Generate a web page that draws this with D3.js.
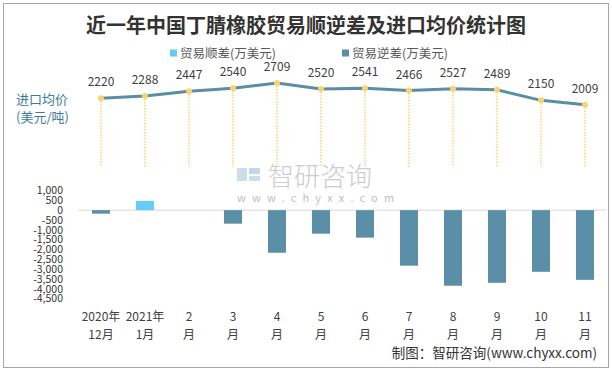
<!DOCTYPE html>
<html><head><meta charset="utf-8">
<script src="https://cdn.jsdelivr.net/npm/d3@7"></script>
<style>body{margin:0;background:#fff}svg{display:block}text{font-family:"Microsoft YaHei","Noto Sans CJK SC",sans-serif}</style>
</head><body><svg id="c" width="612" height="369"></svg>
<script>
const categories = ["2020年12月","2021年1月","2月","3月","4月","5月","6月","7月","8月","9月","10月","11月"];
const xLine1 = ["2020年","2021年","2","3","4","5","6","7","8","9","10","11"];
const xLine2 = ["12月","1月","月","月","月","月","月","月","月","月","月","月"];
const surplus = [0, 470, 0, 0, 0, 0, 0, 0, 0, 0, 0, 0];
const deficit = [-180, 0, 0, -690, -2170, -1200, -1400, -2830, -3850, -3700, -3140, -3550];
const price = [2220, 2288, 2447, 2540, 2709, 2520, 2541, 2466, 2527, 2489, 2150, 2009];
const barTicks = [1000,500,0,-500,-1000,-1500,-2000,-2500,-3000,-3500,-4000,-4500];
const seriesNames = ["贸易顺差(万美元)","贸易逆差(万美元)"];

const svg = d3.select("#c");
const C = {light:"#66ccf5", dark:"#5b8fa8", line:"#5a8ea7", dot:"#fad370", text:"#404040"};

// frame
svg.append("rect").attr("x",3.5).attr("y",3.5).attr("width",605).attr("height",364)
  .attr("fill","none").attr("stroke","#a6a6a6").attr("stroke-width",1);

// title
svg.append("text").attr("x",306).attr("y",33).attr("text-anchor","middle")
  .attr("font-size",20).attr("font-weight","bold").attr("fill","#333").text("近一年中国丁腈橡胶贸易顺逆差及进口均价统计图");

// legend
const leg = [{x:170,c:C.light,t:seriesNames[0]},{x:342,c:C.dark,t:seriesNames[1]}];
leg.forEach(l=>{
  svg.append("rect").attr("x",l.x).attr("y",49.5).attr("width",7).attr("height",7).attr("fill",l.c);
  svg.append("text").attr("x",l.x+10).attr("y",57.5).attr("font-size",12.5).attr("fill","#595959").text(l.t);
});

// watermark
const wm = svg.append("g").attr("opacity",0.9);
wm.append("rect").attr("x",237).attr("y",168).attr("width",10).attr("height",13).attr("fill","#c9d8e6");
wm.append("rect").attr("x",249).attr("y",168).attr("width",11).attr("height",6).attr("fill","#b8d4ea");
wm.append("rect").attr("x",249).attr("y",176).attr("width",11).attr("height",5).attr("fill","#c9d8e6");
wm.append("text").attr("x",268).attr("y",186).attr("font-size",26).attr("font-weight",300).attr("fill","#c8c8c8").text("智研咨询");
wm.append("text").attr("x",237).attr("y",202).attr("font-size",11).attr("letter-spacing",6.2).attr("fill","#b9b9b9").text("www.chyxx.com");

const x = d3.scaleBand().domain(categories).range([79,607]);
const cx = d => x(d) + x.bandwidth()/2;

// bar axis
const yB = d3.scaleLinear().domain([-4500,1000]).range([298.5,190.5]);
const fmt = d => d3.format(",")(d).replace("\u2212","-");
const yAxis = d3.axisLeft(yB).tickValues(barTicks).tickFormat(fmt).tickSize(0).tickPadding(0);
const ga = svg.append("g").attr("transform","translate(63,0)").call(yAxis);
ga.select(".domain").remove();
ga.selectAll("text").attr("font-size",10.5).attr("fill","#333").attr("font-family",'"DejaVu Sans",sans-serif');

svg.append("line").attr("x1",78).attr("x2",606).attr("y1",yB(0)).attr("y2",yB(0))
  .attr("stroke","#d9d9d9").attr("stroke-width",1);

const bw = 18;
svg.append("g").selectAll("rect").data(categories.map((c,i)=>({c,v:surplus[i]})).filter(d=>d.v>0)).join("rect")
  .attr("x",d=>cx(d.c)-bw/2).attr("width",bw).attr("y",d=>yB(d.v)).attr("height",d=>yB(0)-yB(d.v)).attr("fill",C.light);
svg.append("g").selectAll("rect").data(categories.map((c,i)=>({c,v:deficit[i]})).filter(d=>d.v<0)).join("rect")
  .attr("x",d=>cx(d.c)-bw/2).attr("width",bw).attr("y",yB(0)).attr("height",d=>yB(d.v)-yB(0)).attr("fill",C.dark);

// x labels
const xl = svg.append("g");
categories.forEach((c,i)=>{
  xl.append("text").attr("x",cx(c)).attr("y",320.5).attr("text-anchor","middle").attr("font-size",12).attr("fill",C.text).text(xLine1[i]);
  xl.append("text").attr("x",cx(c)).attr("y",338.5).attr("text-anchor","middle").attr("font-size",12).attr("fill",C.text).text(xLine2[i]);
});

// price line
const yL = d3.scaleLinear().domain([0,3000]).range([167,74]);
const pd = categories.map((c,i)=>({c,v:price[i]}));
svg.append("g").selectAll("line").data(pd).join("line")
  .attr("x1",d=>cx(d.c)).attr("x2",d=>cx(d.c)).attr("y1",d=>yL(d.v)).attr("y2",yL(0))
  .attr("stroke",C.dot).attr("stroke-width",1.5).attr("stroke-dasharray","1.5,1.5");
svg.append("path").datum(pd).attr("fill","none").attr("stroke",C.line).attr("stroke-width",3)
  .attr("d",d3.line().x(d=>cx(d.c)).y(d=>yL(d.v)));
svg.append("g").selectAll("circle").data(pd).join("circle")
  .attr("cx",d=>cx(d.c)).attr("cy",d=>yL(d.v)).attr("r",3).attr("fill",C.dot);
svg.append("g").selectAll("text").data(pd).join("text")
  .attr("x",d=>cx(d.c)).attr("y",d=>yL(d.v)-12).attr("text-anchor","middle")
  .attr("font-size",12).attr("fill",C.text).text(d=>d.v);

// left label
svg.append("text").attr("x",16).attr("y",103.5).attr("font-size",13).attr("fill","#3e7b99").text("进口均价");
svg.append("text").attr("x",16).attr("y",121.5).attr("font-size",13).attr("fill","#3e7b99").text("(美元/吨)");

// source
svg.append("text").attr("x",597).attr("y",358).attr("text-anchor","end").attr("font-size",13.5).attr("fill","#333").text("制图：智研咨询(www.chyxx.com)");
</script></body></html>
